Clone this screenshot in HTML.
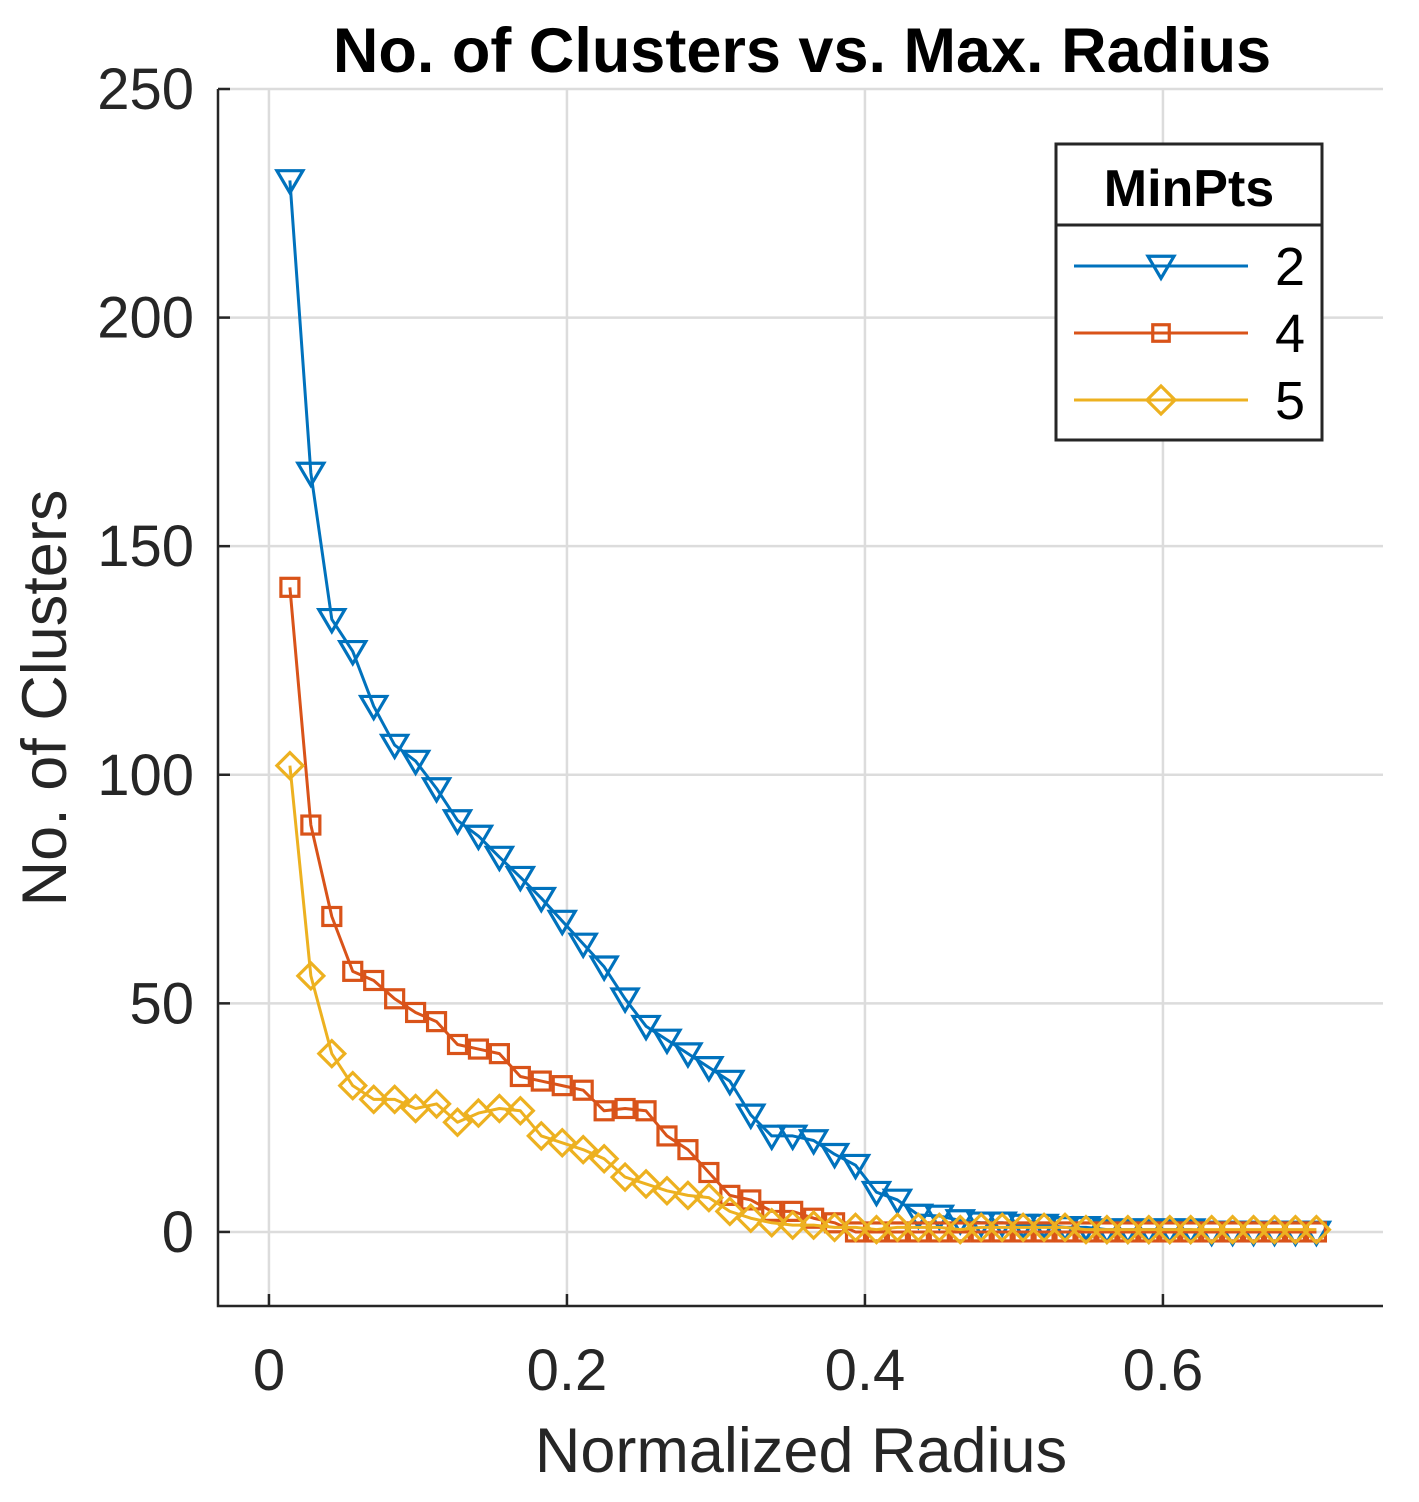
<!DOCTYPE html>
<html><head><meta charset="utf-8"><style>
body{margin:0;background:#fff;width:1419px;height:1497px;overflow:hidden}
svg{font-family:"Liberation Sans",Arial,sans-serif}
</style></head><body>
<svg id="chart" width="1419" height="1497" xmlns="http://www.w3.org/2000/svg">
<g id="grid"></g>
<g id="series"></g>
<g id="axes"></g>
<text x="802" y="72" text-anchor="middle" font-size="63" font-weight="bold" fill="#000">No. of Clusters vs. Max. Radius</text>
<text x="801" y="1472" text-anchor="middle" font-size="63" fill="#262626">Normalized Radius</text>
<text transform="translate(66,698) rotate(-90)" text-anchor="middle" font-size="63" fill="#262626">No. of Clusters</text>
<g id="legend">
<rect x="1056" y="144" width="266" height="296" fill="#fff" stroke="#262626" stroke-width="3"/>
<line x1="1056" y1="225" x2="1322" y2="225" stroke="#262626" stroke-width="3"/>
<text x="1189" y="206" text-anchor="middle" font-size="52" font-weight="bold" fill="#000">MinPts</text>
</g>
</svg>
<script>
const xValues=[];for(let i=0;i<50;i++)xValues.push(0.01406*(i+1));
const series2=[230,166,134,127,115,106.5,103,97,90,86.6,82,77.6,73,68,63,58,51,45,42,39,36,33,25.6,21,21,20,17,14.6,8.7,7,3.7,3.5,2.5,2,2,1.5,1.5,1,1,0.5,0.5,0.5,0.5,0.5,0,0,0,0,0,0];
const series4=[141,89,69,57,55,51,48,46,41,40,39,34,33,32,31,26.5,27,26.5,21,18,13,8,7,4.5,4.5,3,2,0,0,0,0,0,0,0,0,0,0,0,0,0,0,0,0,0,0,0,0,0,0,0];
const series5=[102,56,39,32,29,29,27,28,24,26,27,26.5,21,19.5,18,16,12,10.5,9,8,7.5,4.5,3,2,1.5,1.5,1,1,0.5,1,1,1,0.5,1,1,1,1,1,0.5,0.5,0.5,0.5,0.5,0.5,0.5,0.5,0.5,0.5,0.5,0.5];
const xTicks=[0,0.2,0.4,0.6];
const xTickLabels=["0","0.2","0.4","0.6"];
const yTicks=[0,50,100,150,200,250];
const yTickLabels=["0","50","100","150","200","250"];
const legendLabels=["2","4","5"];
const L=218,R=1383,T=89,B=1306;
const xMin=-0.0342,xMax=0.7477,yMin=-16.2,yMax=250;
const sx=v=>L+(v-xMin)/(xMax-xMin)*(R-L);
const sy=v=>B-(v-yMin)/(yMax-yMin)*(B-T);
const NS="http://www.w3.org/2000/svg";
function mk(tag,attrs,parent){const e=document.createElementNS(NS,tag);for(const k in attrs)e.setAttribute(k,attrs[k]);parent.appendChild(e);return e;}
const grid=document.getElementById('grid'),axes=document.getElementById('axes'),ser=document.getElementById('series'),leg=document.getElementById('legend');
xTicks.forEach((t,i)=>{const x=sx(t);
 const g=mk('line',{x1:x,y1:T,x2:x,y2:B,stroke:'#dcdcdc','stroke-width':2.5},grid);
 
 mk('line',{x1:x,y1:B,x2:x,y2:B-12,stroke:'#262626','stroke-width':2.5},axes);
 const tx=mk('text',{x:x,y:1390,'text-anchor':'middle','font-size':58,fill:'#262626'},axes);tx.textContent=xTickLabels[i];
 });
yTicks.forEach((t,i)=>{const y=sy(t);
 const g=mk('line',{x1:L,y1:y,x2:R,y2:y,stroke:'#dcdcdc','stroke-width':2.5},grid);
 
 mk('line',{x1:L,y1:y,x2:L+12,y2:y,stroke:'#262626','stroke-width':2.5},axes);
 const tx=mk('text',{x:194,y:y+20,'text-anchor':'end','font-size':58,fill:'#262626'},axes);tx.textContent=yTickLabels[i];
 });
const ax=mk('path',{d:`M${L},${T}V${B}H${R}`,fill:'none',stroke:'#262626','stroke-width':2.5},axes);

function marker(type,x,y,c,s,parent){
 if(type==='tri')return mk('path',{d:`M${x-s},${y-s*0.75}H${x+s}L${x},${y+s*0.95}Z`,fill:'none',stroke:c,'stroke-width':3.2},parent);
 if(type==='sq')return mk('rect',{x:x-s*0.75,y:y-s*0.75,width:s*1.5,height:s*1.5,fill:'none',stroke:c,'stroke-width':3.2},parent);
 return mk('path',{d:`M${x},${y-s}L${x+s},${y}L${x},${y+s}L${x-s},${y}Z`,fill:'none',stroke:c,'stroke-width':3.2},parent);}
const defs=[{d:series2,c:'#0072bd',m:'tri',s:13,n:'series-minpts-2'},{d:series4,c:'#d95319',m:'sq',s:12,n:'series-minpts-4'},{d:series5,c:'#edb120',m:'dia',s:13,n:'series-minpts-5'}];
defs.forEach((sd,si)=>{const g=mk('g',{},ser);
 const pts=sd.d.map((v,i)=>sx(xValues[i])+','+sy(v)).join(' ');
 const pl=mk('polyline',{points:pts,fill:'none',stroke:sd.c,'stroke-width':3,'stroke-linejoin':'round'},g);
 
 sd.d.forEach((v,i)=>{const m=marker(sd.m,sx(xValues[i]),sy(v),sd.c,sd.s,g);
  });
 const ly=266+si*67;
 const ll=mk('line',{x1:1074,y1:ly,x2:1248,y2:ly,stroke:sd.c,'stroke-width':3},leg);
 
 const lm=marker(sd.m,1161,ly,sd.c,sd.m==='tri'?13:(sd.m==='sq'?11:14),leg);
 
 const lt=mk('text',{x:1290,y:ly+19,'text-anchor':'middle','font-size':54,fill:'#000'},leg);lt.textContent=legendLabels[si];
 });
</script>
</body></html>
